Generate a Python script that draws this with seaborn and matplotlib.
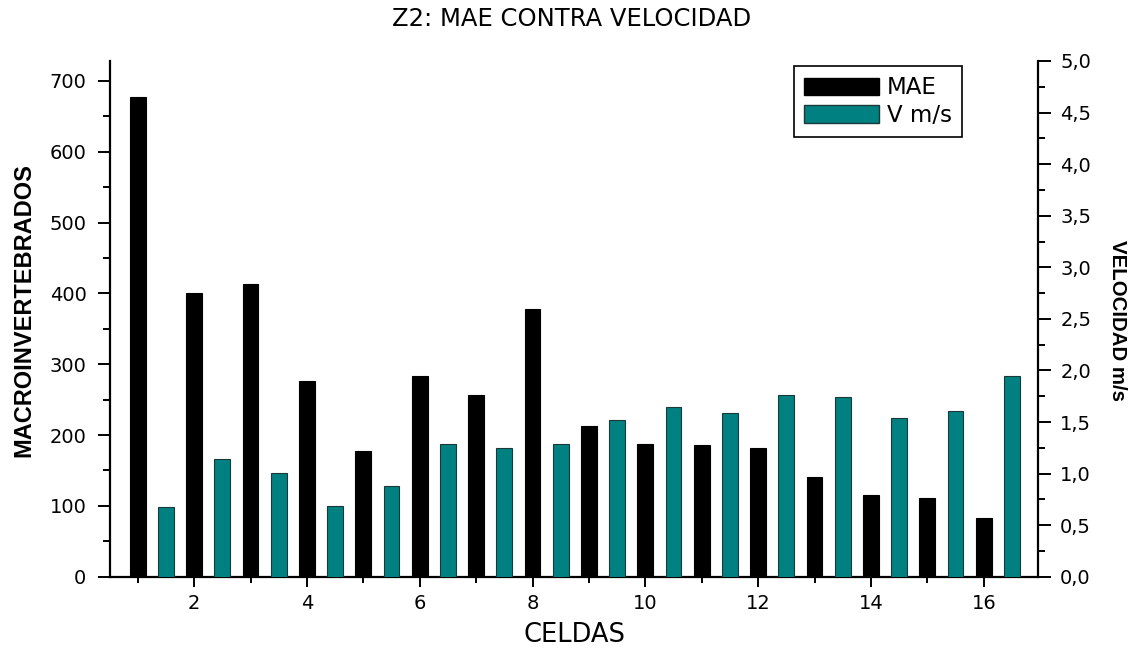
import numpy as np
import pandas as pd
import matplotlib
matplotlib.use("Agg")
import matplotlib.pyplot as plt
from matplotlib.patches import Patch
from matplotlib.ticker import MultipleLocator, FuncFormatter
import seaborn as sns

# Data: cells, macroinvertebrate counts and flow velocity
celdas = list(range(1, 17))
mae = [677, 401, 413, 276, 178, 283, 257, 378, 213, 188, 186, 181, 141, 116, 111, 83]
velocidad = [0.68, 1.14, 1.01, 0.69, 0.88, 1.29, 1.25, 1.29,
             1.52, 1.65, 1.59, 1.76, 1.74, 1.54, 1.61, 1.95]
series_labels = ["MAE", "V m/s"]
title = "Z2: MAE CONTRA VELOCIDAD"

sns.set_theme(style="white")
plt.rcParams["font.family"] = ["DejaVu Sans"]
for key in ("text.color", "axes.labelcolor", "xtick.color", "ytick.color", "axes.edgecolor"):
    plt.rcParams[key] = "black"

TEAL = "#008080"
EDGE_TEAL = "#1a3a3a"
bar_w = 0.28
shift = 0.5

df_mae = pd.DataFrame({"celda": celdas, "valor": mae})
df_vel = pd.DataFrame({"celda": np.array(celdas) + shift, "valor": velocidad})

fig = plt.figure(figsize=(11.44, 6.51), dpi=100)
ax = fig.add_axes([0.0962, 0.1141, 0.8111, 0.7922])
ax2 = ax.twinx()

sns.barplot(data=df_mae, x="celda", y="valor", native_scale=True, width=bar_w,
            color="black", edgecolor="black", linewidth=0.8, saturation=1,
            errorbar=None, ax=ax)
sns.barplot(data=df_vel, x="celda", y="valor", native_scale=True, width=bar_w,
            color=TEAL, edgecolor=EDGE_TEAL, linewidth=0.8, saturation=1,
            errorbar=None, ax=ax2)

ax.set_xlim(0.51, 16.96)
ax.set_ylim(0, 728)
ax2.set_ylim(0, 5.0)

# Spines: left, bottom and right only
for a in (ax, ax2):
    a.spines["top"].set_visible(False)
    for s in ("left", "right", "bottom"):
        a.spines[s].set_linewidth(1.6)
ax.spines["right"].set_visible(False)
ax2.spines["left"].set_visible(False)
ax2.spines["bottom"].set_visible(False)

# Ticks
ax.xaxis.set_major_locator(MultipleLocator(2))
ax.xaxis.set_minor_locator(MultipleLocator(1))
ax.yaxis.set_major_locator(MultipleLocator(100))
ax.yaxis.set_minor_locator(MultipleLocator(50))
ax2.yaxis.set_major_locator(MultipleLocator(0.5))
ax2.yaxis.set_minor_locator(MultipleLocator(0.25))
ax.xaxis.set_major_formatter(FuncFormatter(lambda v, p: f"{int(round(v))}"))
ax.yaxis.set_major_formatter(FuncFormatter(lambda v, p: f"{int(round(v))}"))
ax2.yaxis.set_major_formatter(FuncFormatter(lambda v, p: f"{v:.1f}".replace(".", ",")))

ax.tick_params(axis="x", which="major", direction="out", length=7.5, width=1.4,
               labelsize=14, pad=5, bottom=True)
ax.tick_params(axis="x", which="minor", direction="out", length=4.5, width=1.4, bottom=True)
ax.tick_params(axis="y", which="major", direction="out", length=9, width=1.4,
               labelsize=14, pad=8, left=True)
ax.tick_params(axis="y", which="minor", direction="out", length=5, width=1.4, left=True)
ax2.tick_params(axis="y", which="major", direction="out", length=9, width=1.4,
                labelsize=14, pad=7, right=True)
ax2.tick_params(axis="y", which="minor", direction="out", length=5, width=1.4, right=True)

for a in (ax, ax2):
    a.set_xlabel("")
    a.set_ylabel("")
    a.grid(False)

# Title and axis labels
fig.text(0.5, 0.971, title, ha="center", va="center", fontsize=17.5)
fig.text(0.502, 0.024, "CELDAS", ha="center", va="center", fontsize=18.5)
fig.text(0.0205, 0.524, "MACROINVERTEBRADOS", rotation=90, ha="center", va="center",
         fontsize=17, fontweight="bold", family=["Liberation Sans", "DejaVu Sans"])
fig.text(0.977, 0.508, "VELOCIDAD m/s", rotation=-90, ha="center", va="center",
         fontsize=14.7, fontweight="bold", family=["Liberation Sans", "DejaVu Sans"])

# Legend
handles = [Patch(facecolor="black", edgecolor="black", label=series_labels[0]),
           Patch(facecolor=TEAL, edgecolor=EDGE_TEAL, label=series_labels[1])]
leg = ax2.legend(handles=handles, loc="upper left", bbox_to_anchor=(0.737, 0.99),
                 borderaxespad=0, fontsize=16.5, handlelength=3.27, handleheight=0.8,
                 handletextpad=0.35, labelspacing=0.2, borderpad=0.45,
                 frameon=True, fancybox=False, framealpha=1)
leg.get_frame().set_edgecolor("black")
leg.get_frame().set_linewidth(1.2)

fig.savefig("out.png", dpi=100)
